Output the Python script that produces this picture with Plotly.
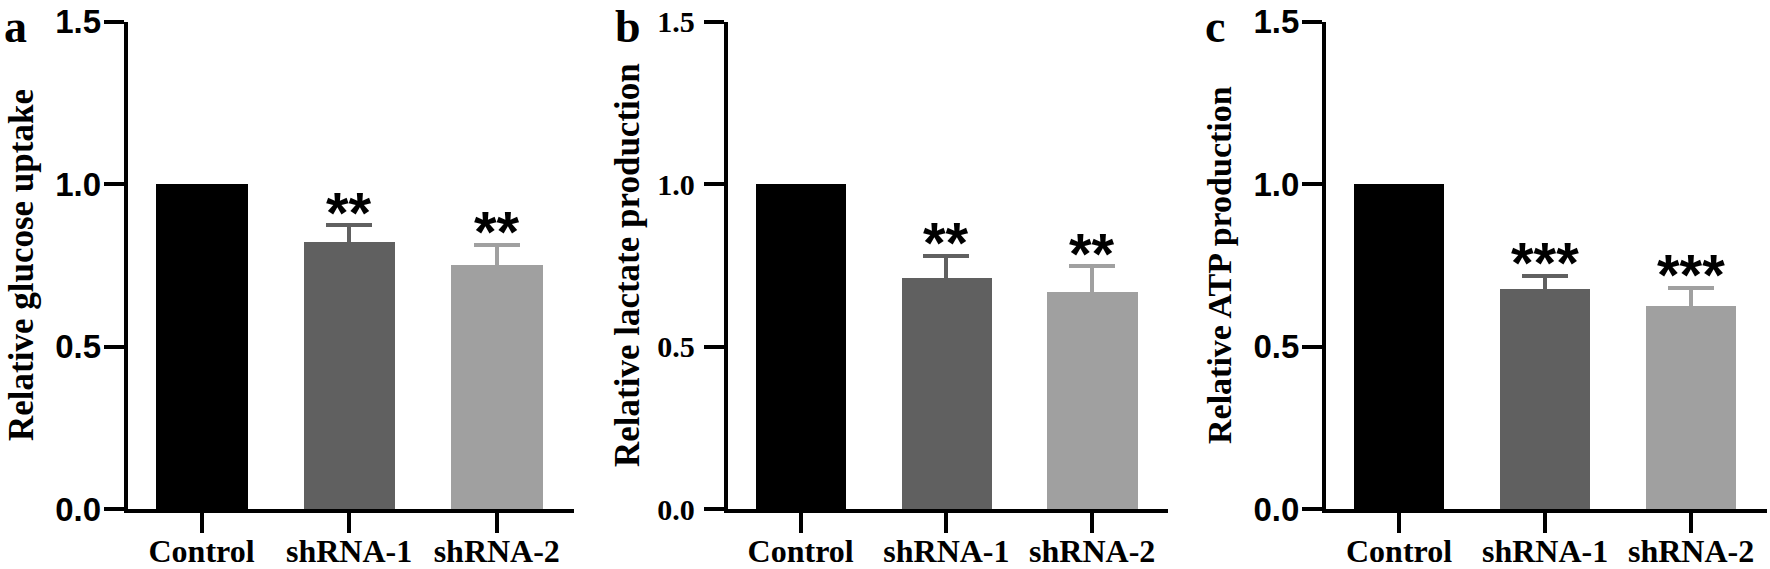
import plotly.graph_objects as go

# ---------------- data ----------------
categories = ["Control", "shRNA-1", "shRNA-2"]
bar_colors = ["#000000", "#606060", "#a0a0a0"]

glucose_mean = [1.0, 0.824, 0.752]
glucose_err = [0.0, 0.050, 0.061]
lactate_mean = [1.0, 0.713, 0.670]
lactate_err = [0.0, 0.067, 0.078]
atp_mean = [1.0, 0.677, 0.626]
atp_err = [0.0, 0.041, 0.055]

glucose_sig = ["", "**", "**"]
lactate_sig = ["", "**", "**"]
atp_sig = ["", "***", "***"]

y_titles = ["Relative glucose uptake", "Relative lactate production", "Relative ATP production"]
panel_letters = ["a", "b", "c"]
y_tickvals = [0.0, 0.5, 1.0, 1.5]
y_ticktext = ["0.0", "0.5", "1.0", "1.5"]

panels = [
    (glucose_mean, glucose_err, glucose_sig),
    (lactate_mean, lactate_err, lactate_sig),
    (atp_mean, atp_err, atp_sig),
]

# ---------------- layout geometry (px) ----------------
W, H = 1770, 569
x_domains_px = [(127.7, 573.5), (727.7, 1168.0), (1326.0, 1767.0)]
y_dom = [(H - 509) / H, (H - 21.7) / H]
title_x_px = [21, 627, 1219]
title_sizes = [35, 35, 34]
letter_x_px = [2, 613, 1203]
sans = "Liberation Sans, Arial"
serif = "Liberation Serif, Times New Roman"
ytick_fonts = [
    dict(family=sans, size=33, color="black", weight="bold"),
    dict(family=serif, size=30, color="black", weight="bold"),
    dict(family=sans, size=33, color="black", weight="bold"),
]
ytick_standoff = [-4, 3, -4]

fig = go.Figure()
annotations = []

for i, (mean, err, sig) in enumerate(panels):
    xa = "x" if i == 0 else f"x{i+1}"
    ya = "y" if i == 0 else f"y{i+1}"
    for j, cat in enumerate(categories):
        fig.add_trace(go.Bar(
            x=[cat], y=[mean[j]],
            marker=dict(color=bar_colors[j], line=dict(width=0)),
            width=0.62,
            error_y=dict(type="data", symmetric=True, array=[err[j]],
                         color=bar_colors[j], thickness=4, width=23,
                         visible=err[j] > 0),
            xaxis=xa, yaxis=ya, showlegend=False,
        ))
        if sig[j]:
            annotations.append(dict(
                x=cat, y=mean[j] + err[j], xref=xa, yref=ya,
                text=f"<b>{sig[j]}</b>", showarrow=False,
                xanchor="center", yanchor="middle", yshift=13,
                font=dict(family=sans, size=58, color="black"),
            ))
    d0, d1 = x_domains_px[i]
    xkey = "xaxis" if i == 0 else f"xaxis{i+1}"
    ykey = "yaxis" if i == 0 else f"yaxis{i+1}"
    fig.update_layout(**{
        xkey: dict(
            domain=[d0 / W, d1 / W], anchor=ya, type="category",
            categoryorder="array", categoryarray=categories,
            range=[-0.5, 2.52], showline=True, linewidth=4, linecolor="black",
            ticks="outside", ticklen=20, tickwidth=4, tickcolor="black",
            showgrid=False, zeroline=False, fixedrange=True, automargin=False,
            tickfont=dict(family=serif, size=32, color="black", weight="bold"),
            ticklabelstandoff=-9,
        ),
        ykey: dict(
            domain=y_dom, anchor=xa, range=[0, 1.5],
            tickvals=y_tickvals, ticktext=y_ticktext,
            showline=True, linewidth=4, linecolor="black",
            ticks="outside", ticklen=20, tickwidth=4, tickcolor="black",
            showgrid=False, zeroline=False, fixedrange=True, automargin=False,
            tickfont=ytick_fonts[i], ticklabelstandoff=ytick_standoff[i],
        ),
    })
    annotations.append(dict(
        x=title_x_px[i] / W, y=(H - 265) / H, xref="paper", yref="paper",
        text=f"<b>{y_titles[i]}</b>", textangle=-90, showarrow=False,
        xanchor="center", yanchor="middle",
        font=dict(family=serif, size=title_sizes[i], color="black"),
    ))
    annotations.append(dict(
        x=letter_x_px[i] / W, y=(H - 26) / H, xref="paper", yref="paper",
        text=f"<b>{panel_letters[i]}</b>", showarrow=False,
        xanchor="left", yanchor="middle",
        font=dict(family=serif, size=46, color="black"),
    ))

fig.update_layout(
    width=W, height=H, margin=dict(l=0, r=0, t=0, b=0, autoexpand=False),
    paper_bgcolor="white", plot_bgcolor="white",
    barmode="overlay", bargap=0, annotations=annotations,
)

fig.write_html("out.html", config={"displayModeBar": False},
               post_script="document.body.style.margin='0';")
